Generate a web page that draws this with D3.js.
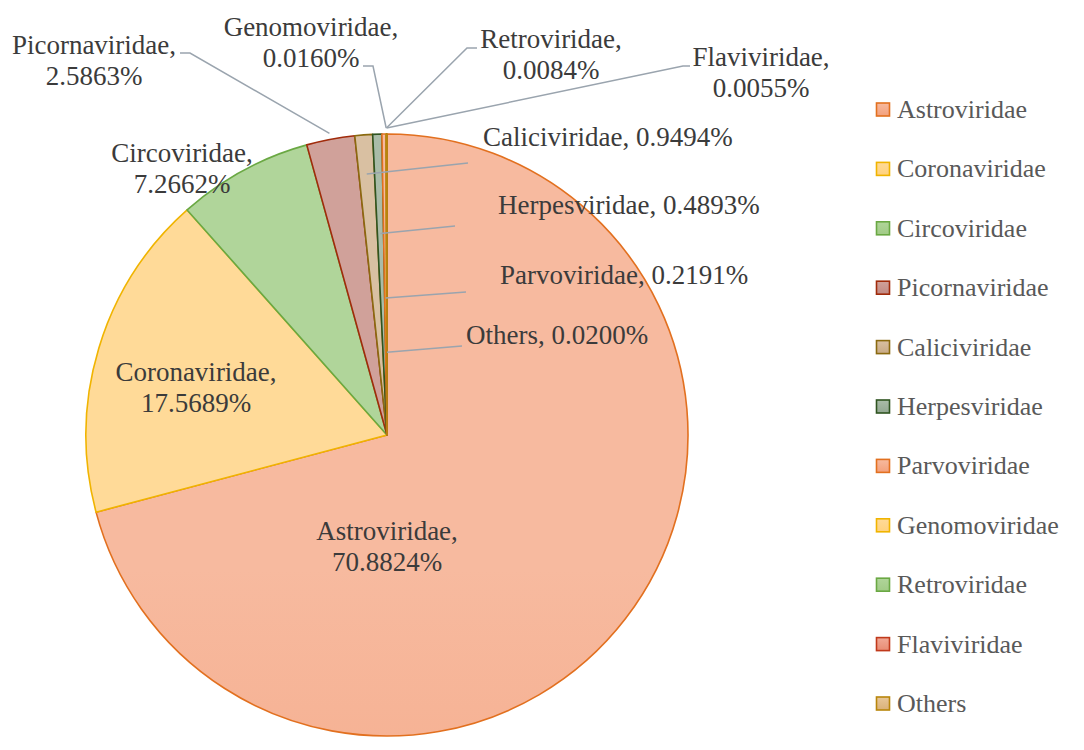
<!DOCTYPE html>
<html>
<head>
<meta charset="utf-8">
<script src="https://cdn.jsdelivr.net/npm/d3@7"></script>
<style>
  body { margin: 0; background: #fff; }
  svg { display: block; }
</style>
</head>
<body>
<div id="chart"></div>
<script>
// Virus family share of reads (%)
const families = ['Astroviridae', 'Coronaviridae', 'Circoviridae', 'Picornaviridae', 'Caliciviridae',
  'Herpesviridae', 'Parvoviridae', 'Genomoviridae', 'Retroviridae', 'Flaviviridae', 'Others'];
const shares = [70.8824, 17.5689, 7.2662, 2.5863, 0.9494, 0.4893, 0.2191, 0.0160, 0.0084, 0.0055, 0.0200];
const shareLabels = ['70.8824%', '17.5689%', '7.2662%', '2.5863%', '0.9494%', '0.4893%', '0.2191%',
  '0.0160%', '0.0084%', '0.0055%', '0.0200%'];

// colour per family: [gradient top, gradient bottom, outline]
const palette = [
  ['#F7BA9F', '#F3A07C', '#E2701F'],
  ['#FFDA98', '#FFD27E', '#F0B400'],
  ['#B0D59A', '#A1CB86', '#6AA843'],
  ['#D0A19A', '#C28A83', '#A02B0B'],
  ['#D9C0A2', '#C8AA85', '#8A6A10'],
  ['#A9BCA8', '#92A791', '#2F5420'],
  ['#F7BA9F', '#F3A07C', '#E2701F'],
  ['#FFDA98', '#FFD27E', '#F0B400'],
  ['#B0D59A', '#A1CB86', '#6AA843'],
  ['#F1A996', '#E88B73', '#C0391B'],
  ['#E8C79A', '#D9B178', '#B8860B']
];

// label placement (layout only): text position, leader start, elbow, end radius factor
const labelLayout = [
  { anchor: 'middle', x: 387, y: 540, split: true },
  { anchor: 'middle', x: 196, y: 381, split: true },
  { anchor: 'middle', x: 182, y: 162, split: true },
  { anchor: 'middle', x: 94, y: 54, split: true, lx: 180, ly: 53, ex: 190, r: 1.02 },
  { anchor: 'start', x: 483, y: 146, split: false, lx: 468, ly: 163, r: 0.87 },
  { anchor: 'start', x: 498, y: 214, split: false, lx: 455, ly: 226, r: 0.67 },
  { anchor: 'start', x: 500, y: 284, split: false, lx: 466, ly: 292, r: 0.455 },
  { anchor: 'middle', x: 311, y: 36, split: true, lx: 363, ly: 66, ex: 373, r: 1.02 },
  { anchor: 'middle', x: 551, y: 48, split: true, lx: 477, ly: 48, ex: 467, r: 1.02 },
  { anchor: 'middle', x: 761, y: 66, split: true, lx: 690, ly: 66, ex: 683, r: 1.02 },
  { anchor: 'start', x: 466, y: 344, split: false, lx: 462, ly: 346, r: 0.275 }
];

const width = 1084;
const height = 750;
const cx = 387, cy = 435, radius = 301;
const serif = '"Liberation Serif", "DejaVu Serif", "Times New Roman", Times, serif';

const svg = d3.select('#chart')
  .append('svg')
  .attr('width', width)
  .attr('height', height);

const defs = svg.append('defs');

// one gradient for slices (spans the whole pie), one for legend boxes
palette.forEach((c, i) => {
  const g = defs.append('linearGradient')
    .attr('id', 'slice-' + i)
    .attr('gradientUnits', 'userSpaceOnUse')
    .attr('x1', 0).attr('x2', 0)
    .attr('y1', cy - radius).attr('y2', cy + radius);
  g.append('stop').attr('offset', '0%').attr('stop-color', c[0]);
  g.append('stop').attr('offset', '100%').attr('stop-color', c[1]);

  const lg = defs.append('linearGradient')
    .attr('id', 'box-' + i)
    .attr('x1', 0).attr('x2', 0).attr('y1', 0).attr('y2', 1);
  lg.append('stop').attr('offset', '0%').attr('stop-color', c[0]);
  lg.append('stop').attr('offset', '100%').attr('stop-color', c[1]);
});

const data = families.map((name, i) => ({ name, value: shares[i], i }));

const pie = d3.pie()
  .value(d => d.value)
  .sort(null);

const arcs = pie(data);

const arc = d3.arc()
  .innerRadius(0)
  .outerRadius(radius);

const pieG = svg.append('g')
  .attr('transform', `translate(${cx},${cy})`);

pieG.selectAll('path')
  .data(arcs)
  .enter().append('path')
  .attr('d', arc)
  .attr('fill', d => `url(#slice-${d.data.i})`)
  .attr('stroke', d => palette[d.data.i][2])
  .attr('stroke-width', 1.6)
  .attr('stroke-linejoin', 'round');

// leader lines
const leaderG = svg.append('g')
  .attr('fill', 'none')
  .attr('stroke', '#9AA4AE')
  .attr('stroke-width', 1.5);

arcs.forEach(a => {
  const lay = labelLayout[a.data.i];
  if (lay.lx === undefined) return;
  const mid = (a.startAngle + a.endAngle) / 2;
  const r = radius * lay.r;
  const px = cx + r * Math.sin(mid);
  const py = cy - r * Math.cos(mid);
  const pts = [[lay.lx, lay.ly]];
  if (lay.ex !== undefined) pts.push([lay.ex, lay.ly]);
  pts.push([px, py]);
  leaderG.append('path')
    .attr('d', d3.line()(pts));
});

// data labels
arcs.forEach(a => {
  const i = a.data.i;
  const lay = labelLayout[i];
  const t = svg.append('text')
    .style('font-family', serif)
    .style('font-size', '27px')
    .style('fill', '#3B3B3B')
    .attr('text-anchor', lay.anchor)
    .attr('x', lay.x)
    .attr('y', lay.y);
  if (lay.split) {
    t.append('tspan').attr('x', lay.x).text(families[i] + ',');
    t.append('tspan').attr('x', lay.x).attr('dy', 31).text(shareLabels[i]);
  } else {
    t.text(families[i] + ', ' + shareLabels[i]);
  }
});

// legend
const legendY = d3.scalePoint()
  .domain(families)
  .range([110, 704]);

const legend = svg.append('g')
  .selectAll('g')
  .data(data)
  .enter().append('g')
  .attr('transform', d => `translate(876,${legendY(d.name)})`);

legend.append('rect')
  .attr('x', 0.5)
  .attr('y', -7)
  .attr('width', 13)
  .attr('height', 13)
  .attr('fill', d => `url(#box-${d.i})`)
  .attr('stroke', d => palette[d.i][2])
  .attr('stroke-width', 1.6);

legend.append('text')
  .attr('x', 21)
  .attr('y', 8)
  .style('font-family', serif)
  .style('font-size', '26px')
  .style('fill', '#595959')
  .text(d => d.name);
</script>
</body>
</html>
